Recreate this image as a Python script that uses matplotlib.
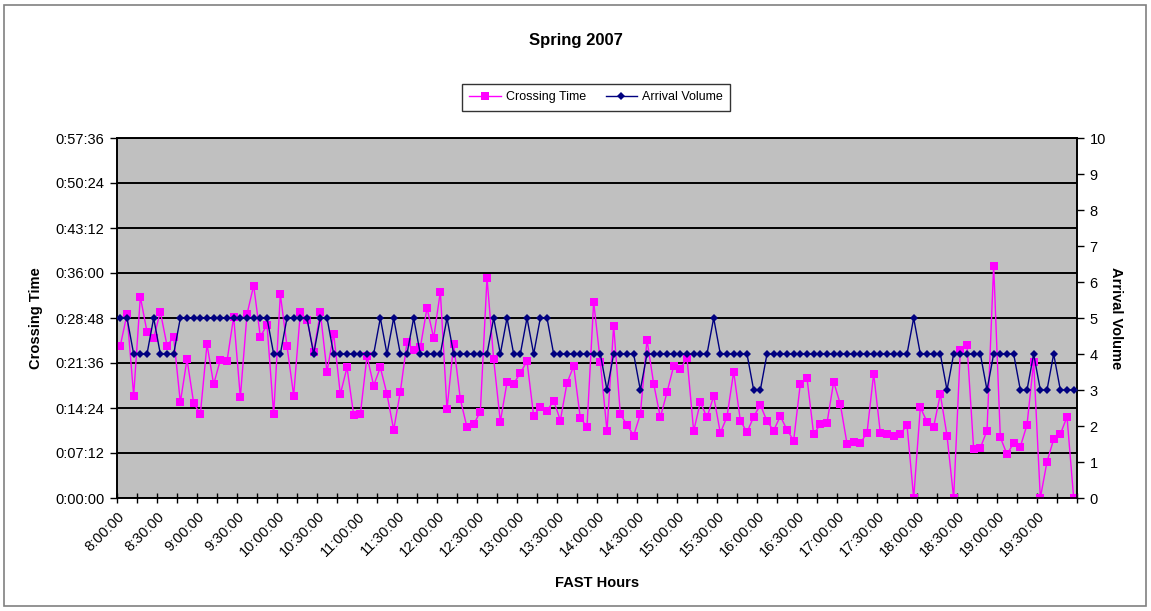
"""
Spring 2007 crossing time and arrival volume by FAST hour.
Excel-style line chart with a second y axis for the arrival volume.
"""

import matplotlib
matplotlib.use("Agg")
import matplotlib.pyplot as plt
import numpy as np
from matplotlib.patches import Rectangle
from matplotlib.ticker import FuncFormatter

plt.rcParams["font.family"] = ["Liberation Sans", "DejaVu Sans"]

# one category every 5 minutes, 8:00 to 19:55
slot_minutes = 5
n_slots = 144

tick_labels = [
    "8:00:00", "8:30:00", "9:00:00", "9:30:00", "10:00:00", "10:30:00",
    "11:00:00", "11:30:00", "12:00:00", "12:30:00", "13:00:00", "13:30:00",
    "14:00:00", "14:30:00", "15:00:00", "15:30:00", "16:00:00", "16:30:00",
    "17:00:00", "17:30:00", "18:00:00", "18:30:00", "19:00:00", "19:30:00",
]

# crossing time in minutes
crossing_min = [
    24.4, 29.4, 16.4, 32.2, 26.6, 25.6, 29.8, 24.4, 25.7, 15.3, 22.2, 15.2,
    13.4, 24.6, 18.2, 22.1, 21.9, 29.0, 16.1, 29.4, 34.0, 25.8, 27.7, 13.4,
    32.6, 24.3, 16.4, 29.7, 28.5, 23.4, 29.7, 20.2, 26.3, 16.6, 20.9, 13.3,
    13.4, 22.7, 18.0, 20.9, 16.6, 10.9, 17.0, 24.9, 23.7, 24.1, 30.4, 25.6,
    33.0, 14.2, 24.6, 15.8, 11.3, 11.8, 13.8, 35.2, 22.2, 12.2, 18.5, 18.3,
    20.0, 21.9, 13.1, 14.6, 13.9, 15.6, 12.4, 18.4, 21.1, 12.8, 11.4, 31.4,
    21.8, 10.7, 27.6, 13.4, 11.7, 10.0, 13.4, 25.3, 18.3, 12.9, 16.9, 21.1,
    20.7, 22.4, 10.7, 15.3, 12.9, 16.3, 10.4, 13.0, 20.2, 12.4, 10.5, 13.0,
    14.9, 12.3, 10.8, 13.1, 10.9, 9.2, 18.3, 19.2, 10.2, 11.8, 12.0, 18.6,
    15.0, 8.7, 8.9, 8.8, 10.4, 19.9, 10.4, 10.2, 10.0, 10.2, 11.7, 0.0,
    14.5, 12.2, 11.4, 16.6, 10.0, 0.0, 23.7, 24.5, 7.8, 8.0, 10.8, 37.2,
    9.7, 7.0, 8.8, 8.2, 11.7, 21.8, 0.0, 5.8, 9.4, 10.2, 13.0, 0.0,
]

arrival_volume = [
    5, 5, 4, 4, 4, 5, 4, 4, 4, 5, 5, 5,
    5, 5, 5, 5, 5, 5, 5, 5, 5, 5, 5, 4,
    4, 5, 5, 5, 5, 4, 5, 5, 4, 4, 4, 4,
    4, 4, 4, 5, 4, 5, 4, 4, 5, 4, 4, 4,
    4, 5, 4, 4, 4, 4, 4, 4, 5, 4, 5, 4,
    4, 5, 4, 5, 5, 4, 4, 4, 4, 4, 4, 4,
    4, 3, 4, 4, 4, 4, 3, 4, 4, 4, 4, 4,
    4, 4, 4, 4, 4, 5, 4, 4, 4, 4, 4, 3,
    3, 4, 4, 4, 4, 4, 4, 4, 4, 4, 4, 4,
    4, 4, 4, 4, 4, 4, 4, 4, 4, 4, 4, 5,
    4, 4, 4, 4, 3, 4, 4, 4, 4, 4, 3, 4,
    4, 4, 4, 3, 3, 4, 3, 3, 4, 3, 3, 3,
]


def minutes_to_hms(value, pos=None):
    """Format minutes as h:mm:ss like Excel does."""
    total = int(round(value * 60))
    h, rem = divmod(total, 3600)
    m, s = divmod(rem, 60)
    return f"{h}:{m:02d}:{s:02d}"


def draw_chart():
    fig = plt.figure(figsize=(11.51, 6.11), dpi=100)
    W, H = 1151, 611
    ax = fig.add_axes([117 / W, 1 - 498 / H, 960 / W, 360 / H])
    ax2 = ax.twinx()

    x = np.arange(n_slots)

    # plot area
    ax.set_facecolor("#C0C0C0")
    ax.set_xlim(-0.5, n_slots - 0.5)
    ax.set_ylim(0, 57.6)
    ax.set_yticks(np.arange(0, 57.61, 7.2))
    ax.yaxis.set_major_formatter(FuncFormatter(minutes_to_hms))
    ax.grid(axis="y", color="black", linewidth=1.4, zorder=1)
    ax.set_axisbelow(True)

    l1, = ax.plot(x, crossing_min, color="#FF00FF", linewidth=1.0,
                  marker="s", markersize=5.5, markeredgewidth=0, zorder=3,
                  label="Crossing Time")

    ax2.set_ylim(0, 10)
    ax2.set_yticks(np.arange(0, 11, 1))
    l2, = ax2.plot(x, arrival_volume, color="#000080", linewidth=1.0,
                   marker="D", markersize=4, markeredgewidth=0, zorder=4,
                   label="Arrival Volume")

    # category ticks every 15 min, labels every 30 min
    ax.set_xticks(np.arange(-0.5, n_slots, 3))
    ax.set_xticklabels([])
    ax.tick_params(axis="x", which="major", direction="inout", length=7,
                   width=1, color="black")
    label_pos = np.arange(0, n_slots, 6)[:len(tick_labels)]
    ax.set_xticks(label_pos - 0.4, minor=True)
    ax.set_xticklabels(tick_labels, minor=True, rotation=45, ha="right",
                       va="top", rotation_mode="anchor", fontsize=10.5)
    ax.tick_params(axis="x", which="minor", length=0, pad=8)

    ax.tick_params(axis="y", direction="out", length=5, width=1,
                   labelsize=10.5, pad=4)
    ax2.tick_params(axis="y", direction="out", length=5, width=1,
                    labelsize=10.5, pad=4)

    for spine in ax.spines.values():
        spine.set_color("black")
        spine.set_linewidth(1.2)
    for spine in ax2.spines.values():
        spine.set_color("black")
        spine.set_linewidth(1.2)

    ax.set_ylabel("Crossing Time", fontsize=10.5, fontweight="bold", labelpad=9)
    ax2.set_ylabel("Arrival Volume", fontsize=10.5, fontweight="bold",
                   rotation=270, labelpad=12)
    fig.text(597 / W, 1 - 583 / H, "FAST Hours", fontsize=10.5,
             fontweight="bold", ha="center", va="center")
    fig.text(576 / W, 1 - 40 / H, "Spring 2007", fontsize=12,
             fontweight="bold", ha="center", va="center")

    leg = fig.legend(handles=[l1, l2], loc="center",
                     bbox_to_anchor=(596 / W, 1 - 97 / H), ncol=2,
                     fontsize=9, frameon=True, fancybox=False,
                     edgecolor="black", handlelength=2.5, columnspacing=1.6,
                     borderpad=0.6, handletextpad=0.4)
    leg.get_frame().set_linewidth(1.0)

    # outer chart border
    fig.add_artist(Rectangle((4 / W, 1 - 606 / H), 1142 / W, 601 / H,
                             transform=fig.transFigure, fill=False,
                             edgecolor="#808080", linewidth=1.2))

    fig.savefig("out.png", dpi=100)


def main():
    draw_chart()


if __name__ == "__main__":
    main()
